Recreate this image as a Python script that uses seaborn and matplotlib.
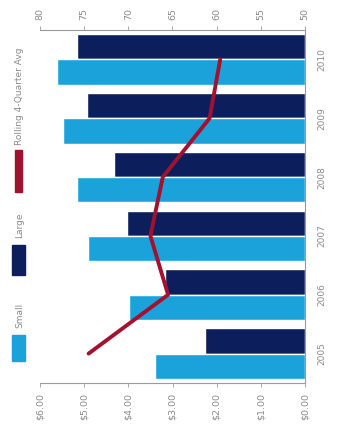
import matplotlib
matplotlib.use("Agg")
import matplotlib.pyplot as plt
from matplotlib.patches import Rectangle
import seaborn as sns
import pandas as pd
import numpy as np

# ---- data ----
periods = ["2005", "2006", "2007", "2008", "2009", "2010"]
small = [3.40, 3.98, 4.91, 5.16, 5.48, 5.61]
large = [2.26, 3.17, 4.03, 4.32, 4.94, 5.16]
rolling = [74.5, 65.5, 67.5, 66.1, 60.8, 59.6]
value_ticks = [0, 1, 2, 3, 4, 5, 6]
value_labels = ["$0.00", "$1.00", "$2.00", "$3.00", "$4.00", "$5.00", "$6.00"]
rate_ticks = [50, 55, 60, 65, 70, 75, 80]
series_names = ["Small", "Large", "Rolling 4-Quarter Avg"]

C_SMALL = "#1ba2db"
C_LARGE = "#0c1f5c"
C_LINE = "#a3112e"
GRAY = "#9a9a9a"
TXT = "#8a8a8a"

sns.set_theme(style="white")
plt.rcParams["font.family"] = ["DejaVu Sans"]

W, H = 342, 438
fig = plt.figure(figsize=(W / 100, H / 100), dpi=100)
fig.patch.set_facecolor("white")

# axes box in pixel coordinates
x0, x1, y_top, y_bot = 40, 305, 30, 383
ax = fig.add_axes([x0 / W, 1 - y_bot / H, (x1 - x0) / W, (y_bot - y_top) / H])

df = pd.DataFrame({
    "period": periods * 2,
    "value": small + large,
    "size": ["Small"] * len(periods) + ["Large"] * len(periods),
})

# latest period on top, first period at the bottom
order = periods[::-1]
sns.barplot(data=df, y="period", x="value", hue="size", order=order,
            hue_order=["Large", "Small"], palette=[C_LARGE, C_SMALL],
            orient="h", width=0.86, saturation=1, legend=False, ax=ax)

ax.set_xlim(6, 0)
ax.set_xticks(value_ticks)
ax.set_xticklabels(value_labels, rotation=90, fontsize=6.8, color=TXT)
ax.set_xlabel("")
ax.set_ylabel("")
ax.yaxis.tick_right()
ax.set_yticks(range(len(order)))
ax.set_yticklabels(order, rotation=90, va="center", fontsize=6.5, color=TXT)
ax.tick_params(axis="y", length=0, pad=9)
ax.tick_params(axis="x", length=3, width=0.6, color=GRAY, pad=4, direction="out")
for side in ["left", "top"]:
    ax.spines[side].set_visible(False)
ax.spines["bottom"].set_color(GRAY)
ax.spines["bottom"].set_linewidth(0.8)
ax.spines["right"].set_color(GRAY)
ax.spines["right"].set_linewidth(0.8)
ax.set_ylim(len(order) - 0.5, -0.5)

# rolling average on its own scale along the top
ax2 = ax.twiny()
pos = [order.index(p) for p in periods]
sns.lineplot(x=rolling, y=pos, sort=False, orient="y", color=C_LINE,
             linewidth=2.8, ax=ax2, legend=False)
ax2.set_xlim(rate_ticks[-1], rate_ticks[0])
ax2.set_ylim(len(order) - 0.5, -0.5)
ax2.set_xticks(rate_ticks)
ax2.set_xticklabels([str(t) for t in rate_ticks], rotation=90, fontsize=6.8, color=TXT)
ax2.tick_params(axis="x", length=3, width=0.6, color=GRAY, pad=4)
for side in ["left", "right", "bottom"]:
    ax2.spines[side].set_visible(False)
ax2.spines["top"].set_color(GRAY)
ax2.spines["top"].set_linewidth(0.8)
ax2.set_ylabel("")

# legend drawn as a vertical column on the left
def px_rect(xl, yt, w, h, color):
    fig.patches.append(Rectangle((xl / W, 1 - (yt + h) / H), w / W, h / H,
                                 transform=fig.transFigure, color=color))

px_rect(12, 335, 13, 26, C_SMALL)
fig.text(20 / W, 1 - 328 / H, series_names[0], rotation=90, ha="center",
         va="bottom", fontsize=6.5, color=TXT)
px_rect(12, 245, 13, 30, C_LARGE)
fig.text(20 / W, 1 - 238 / H, series_names[1], rotation=90, ha="center",
         va="bottom", fontsize=6.5, color=TXT)
px_rect(15, 150, 7, 42, C_LINE)
fig.text(20 / W, 1 - 145 / H, series_names[2], rotation=90, ha="center",
         va="bottom", fontsize=6.5, color=TXT)

fig.savefig("out.png", dpi=100)
